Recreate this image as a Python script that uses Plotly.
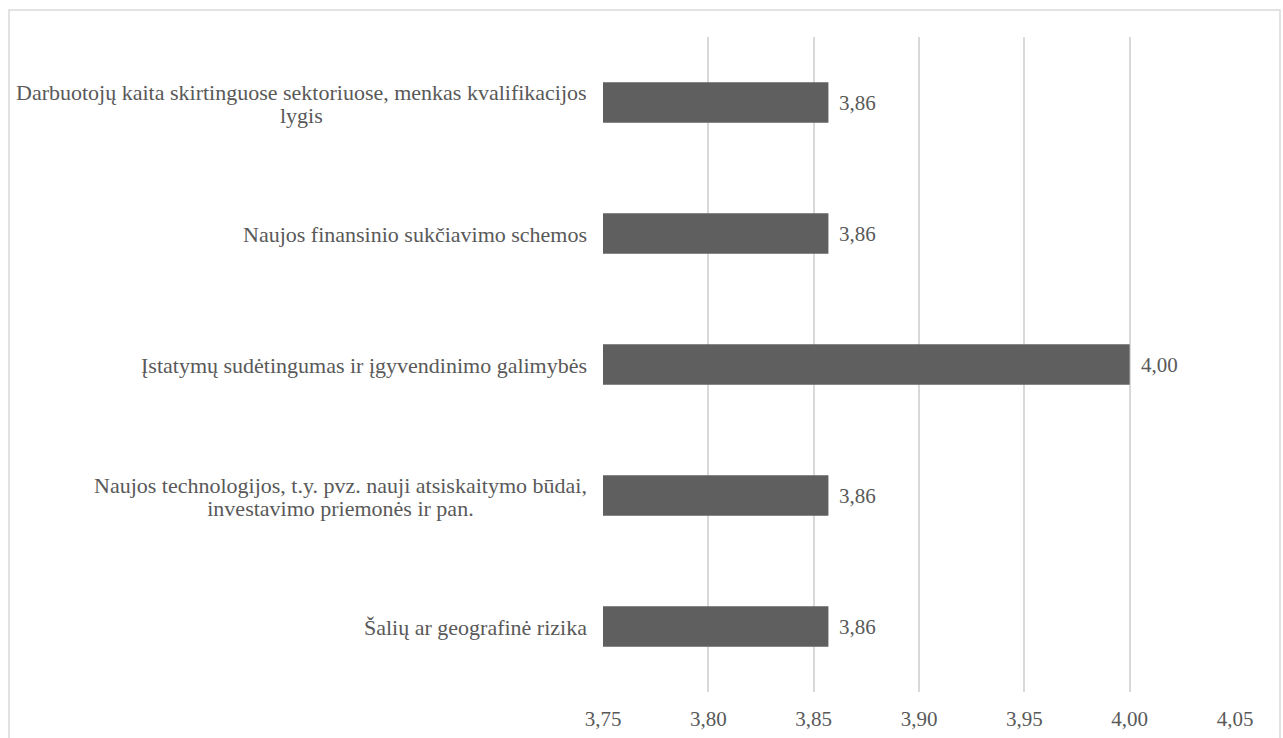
import plotly.graph_objects as go

categories = [
    "Darbuotojų kaita skirtinguose sektoriuose, menkas kvalifikacijos<br>lygis",
    "Naujos finansinio sukčiavimo schemos",
    "Įstatymų sudėtingumas ir įgyvendinimo galimybės",
    "Naujos technologijos, t.y. pvz. nauji atsiskaitymo būdai,<br>investavimo priemonės ir pan.",
    "Šalių ar geografinė rizika",
]
values = [3.857, 3.857, 4.00, 3.857, 3.857]
x_ticks = [3.75, 3.80, 3.85, 3.90, 3.95, 4.00, 4.05]

FONT = "Liberation Serif, Times New Roman, serif"
TXT = "#595959"
FS = 21
CAT_FS = 22

fig = go.Figure()
fig.add_trace(go.Bar(
    x=values, y=categories, orientation="h",
    marker=dict(color="#5f5f5f", line=dict(width=0)),
    width=0.31, hoverinfo="skip",
))

annotations = []
for c, v in zip(categories, values):
    annotations.append(dict(
        x=v, y=c, xref="x", yref="y", text=f"{v:.2f}".replace(".", ","),
        showarrow=False, xanchor="left", xshift=9,
        font=dict(family=FONT, size=FS, color=TXT),
    ))
    styled = "<br>".join(
        f'<span style="font-size:{CAT_FS}px">{ln}</span>' for ln in c.split("<br>")
    )
    annotations.append(dict(
        x=0, y=c, xref="paper", yref="y", text=styled,
        showarrow=False, xanchor="right", align="center", xshift=-14, yshift=-1,
        font=dict(family=FONT, size=18, color=TXT),
    ))

W, H = 1283, 738
L, R, T, B = 603, 48, 37, 46
pw, ph = W - L - R, H - T - B

def px(x):
    return (x - L) / pw

def py(y):
    return (H - B - y) / ph

fig.update_layout(
    width=W, height=H,
    margin=dict(l=L, r=R, t=T, b=B, autoexpand=False),
    paper_bgcolor="white", plot_bgcolor="white",
    separators=",.",
    showlegend=False,
    font=dict(family=FONT, size=FS, color=TXT),
    xaxis=dict(
        range=[3.75, 4.05], tickvals=x_ticks, tickformat=".2f",
        showgrid=True, gridcolor="#d9d9d9", gridwidth=1.5,
        zeroline=False, showline=False, ticks="",
        ticklabelstandoff=12, automargin=False,
        tickfont=dict(family=FONT, size=FS, color=TXT),
        fixedrange=True,
    ),
    yaxis=dict(
        autorange="reversed", showticklabels=False, showgrid=False,
        zeroline=False, showline=False, ticks="", fixedrange=True,
        automargin=False,
    ),
    annotations=annotations,
    shapes=[dict(
        type="rect", xref="paper", yref="paper",
        x0=px(9), x1=px(1280), y0=py(760), y1=py(10),
        line=dict(color="#d9d9d9", width=1.5), fillcolor="rgba(0,0,0,0)",
        layer="below",
    )],
)

fig.write_html("out.html")
